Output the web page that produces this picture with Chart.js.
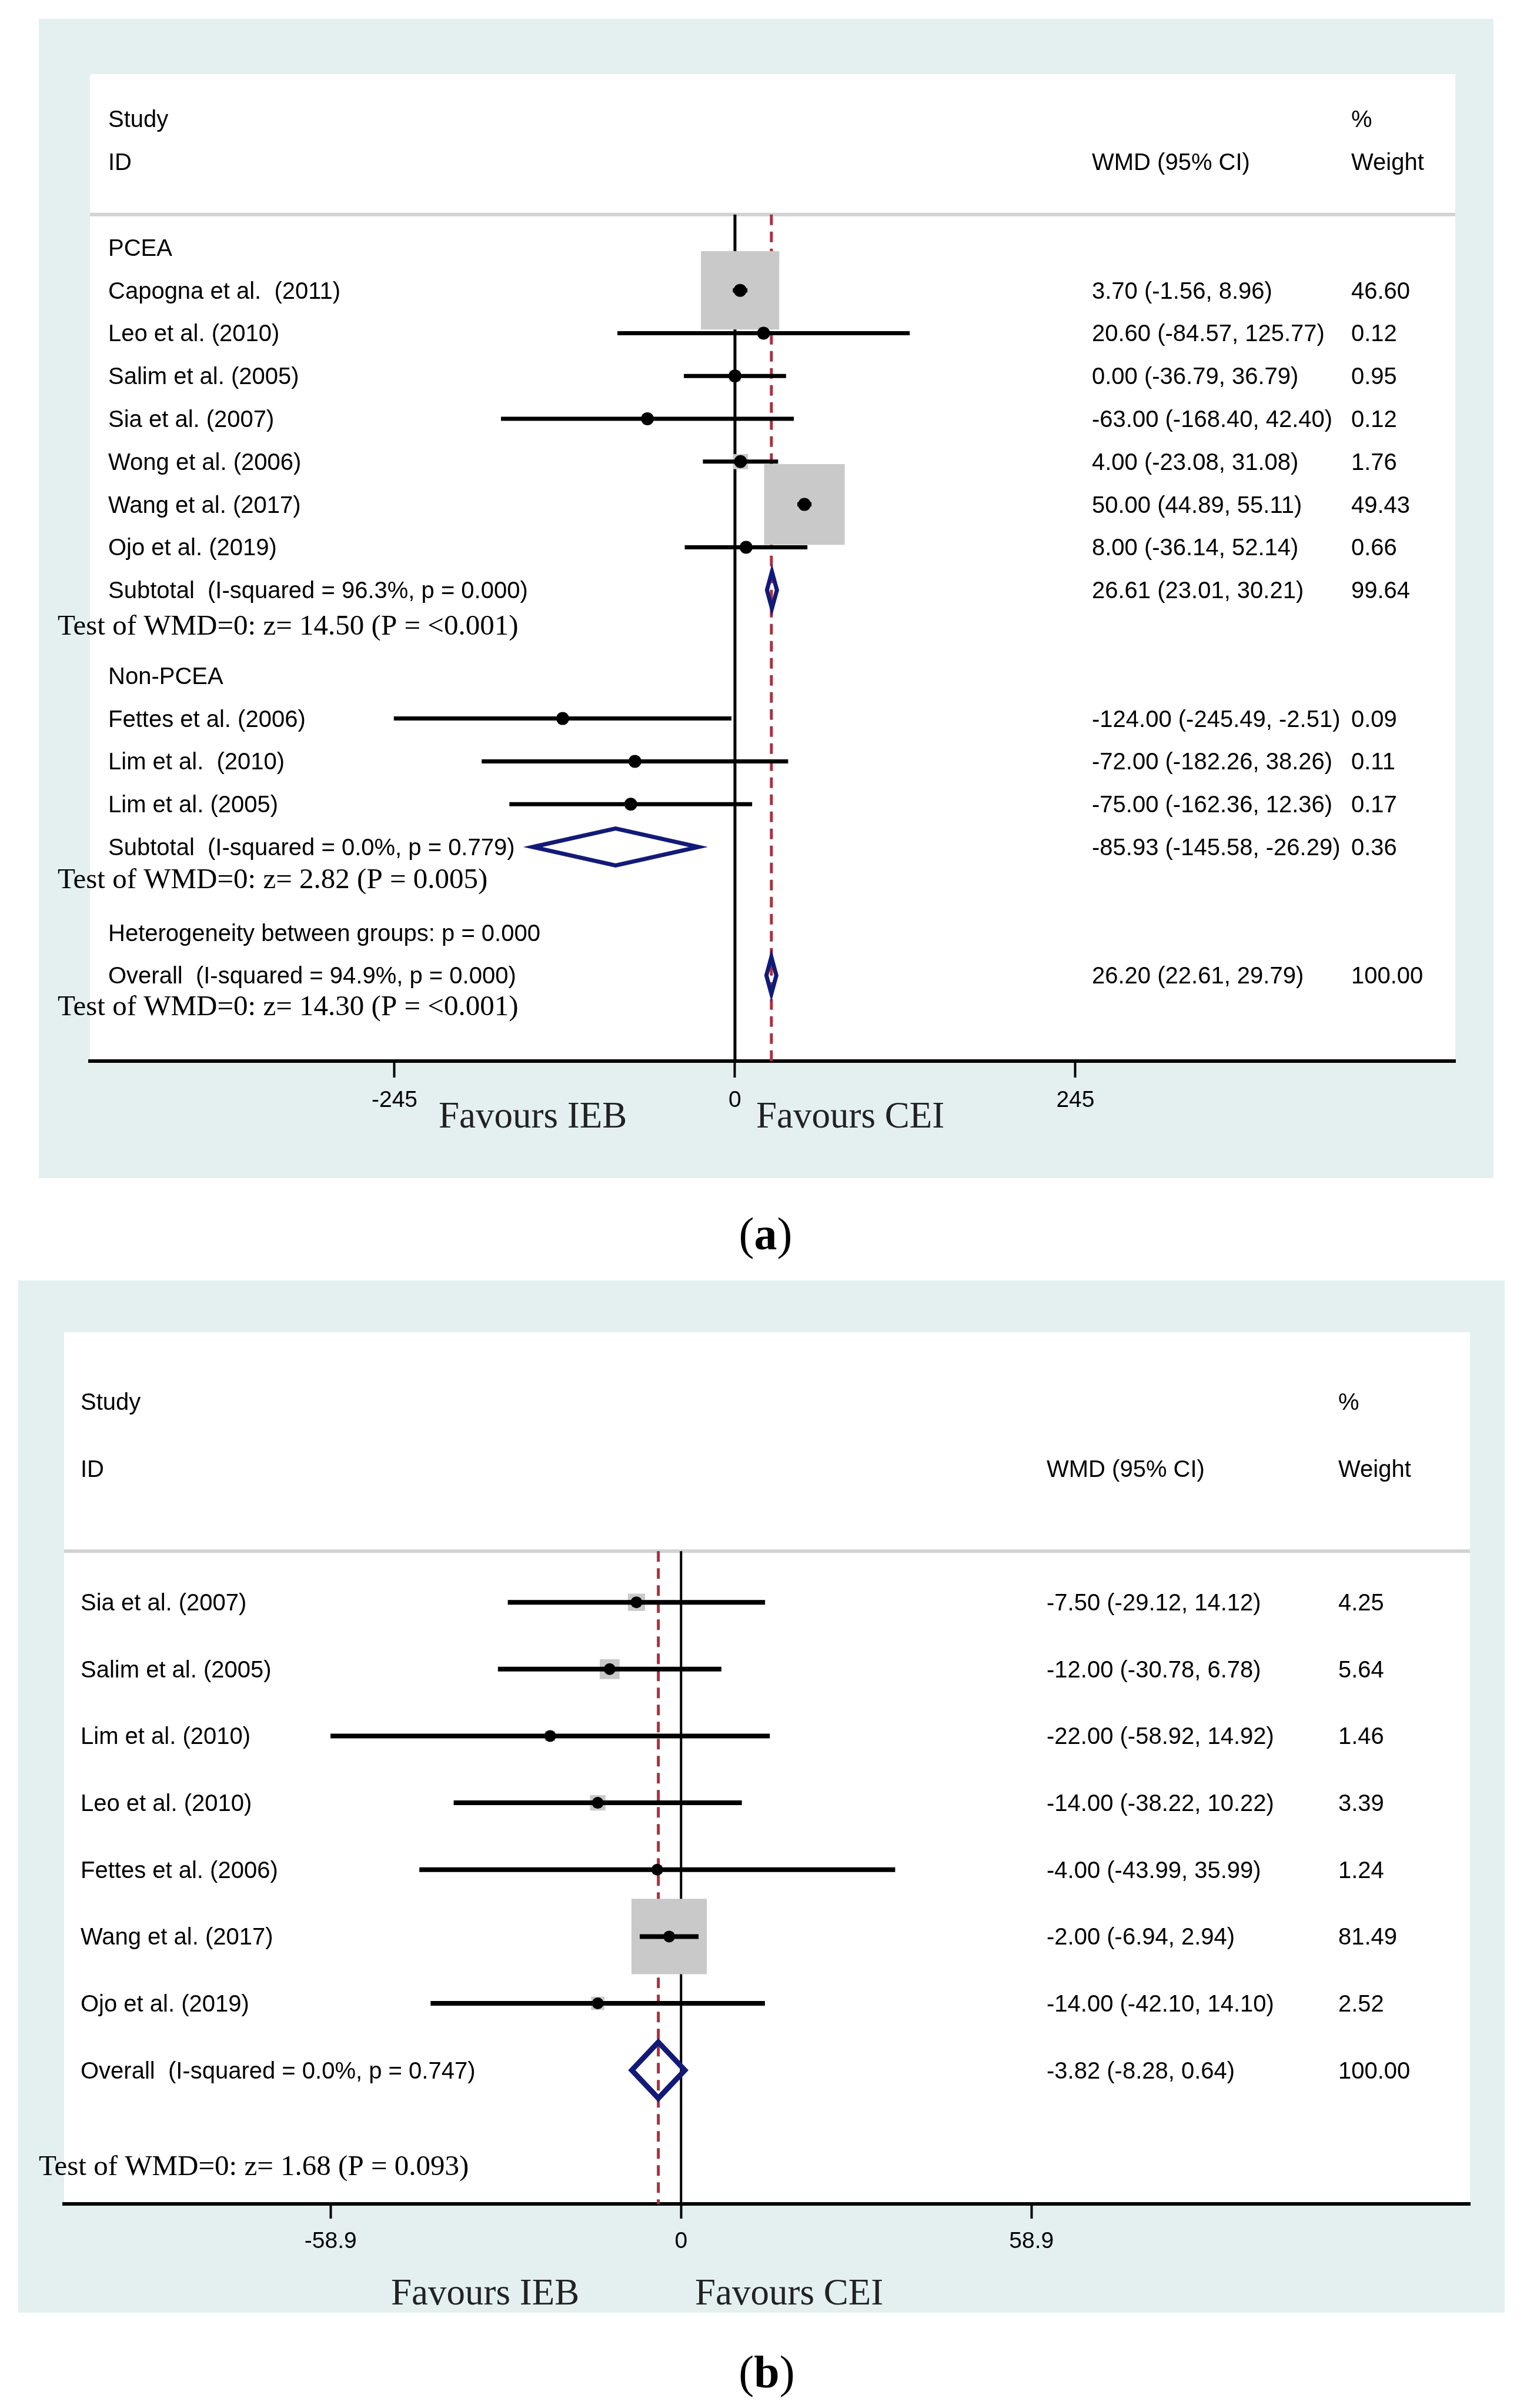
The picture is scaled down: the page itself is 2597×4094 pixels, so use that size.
<!DOCTYPE html>
<html>
<head>
<meta charset="utf-8">
<script src="https://cdn.jsdelivr.net/npm/chart.js@4.4.0/dist/chart.umd.min.js"></script>
<style>
  html, body { margin: 0; padding: 0; background: #fff; }
  canvas { position: absolute; left: 0; display: block; }
  #panelA { top: 0; }
  #panelB { top: 2160px; }
</style>
</head>
<body>
<canvas id="panelA" width="2597" height="2160"></canvas>
<canvas id="panelB" width="2597" height="1934"></canvas>
<script>
// ---- panel (a) data ----
var studiesA = ['Capogna et al.  (2011)', 'Leo et al. (2010)', 'Salim et al. (2005)', 'Sia et al. (2007)',
  'Wong et al. (2006)', 'Wang et al. (2017)', 'Ojo et al. (2019)',
  'Fettes et al. (2006)', 'Lim et al.  (2010)', 'Lim et al. (2005)'];
var rowsA = [1, 2, 3, 4, 5, 6, 7, 11, 12, 13];
var wmdA = [3.70, 20.60, 0.00, -63.00, 4.00, 50.00, 8.00, -124.00, -72.00, -75.00];
var lowA = [-1.56, -84.57, -36.79, -168.40, -23.08, 44.89, -36.14, -245.49, -182.26, -162.36];
var highA = [8.96, 125.77, 36.79, 42.40, 31.08, 55.11, 52.14, -2.51, 38.26, 12.36];
var weightA = [46.60, 0.12, 0.95, 0.12, 1.76, 49.43, 0.66, 0.09, 0.11, 0.17];

var groupsA = ['PCEA', 'Non-PCEA'];
var groupRowsA = [0, 10];
var poolLabelsA = ['Subtotal  (I-squared = 96.3%, p = 0.000)', 'Subtotal  (I-squared = 0.0%, p = 0.779)',
  'Overall  (I-squared = 94.9%, p = 0.000)'];
var poolRowsA = [8, 14, 17];
var poolWmdA = [26.61, -85.93, 26.20];
var poolLowA = [23.01, -145.58, 22.61];
var poolHighA = [30.21, -26.29, 29.79];
var poolWeightA = [99.64, 0.36, 100.00];
var testsA = ['Test of WMD=0: z= 14.50 (P = <0.001)', 'Test of WMD=0: z= 2.82 (P = 0.005)',
  'Test of WMD=0: z= 14.30 (P = <0.001)'];
var testRowsA = [8.82, 14.75, 17.71];
var notesA = ['Heterogeneity between groups: p = 0.000'];
var noteRowsA = [16];
var ticksA = [-245, 0, 245];
var tickLabelsA = ['-245', '0', '245'];

// ---- panel (b) data ----
var studiesB = ['Sia et al. (2007)', 'Salim et al. (2005)', 'Lim et al. (2010)', 'Leo et al. (2010)',
  'Fettes et al. (2006)', 'Wang et al. (2017)', 'Ojo et al. (2019)'];
var rowsB = [0, 1, 2, 3, 4, 5, 6];
var wmdB = [-7.50, -12.00, -22.00, -14.00, -4.00, -2.00, -14.00];
var lowB = [-29.12, -30.78, -58.92, -38.22, -43.99, -6.94, -42.10];
var highB = [14.12, 6.78, 14.92, 10.22, 35.99, 2.94, 14.10];
var weightB = [4.25, 5.64, 1.46, 3.39, 1.24, 81.49, 2.52];

var poolLabelsB = ['Overall  (I-squared = 0.0%, p = 0.747)'];
var poolRowsB = [7];
var poolWmdB = [-3.82];
var poolLowB = [-8.28];
var poolHighB = [0.64];
var poolWeightB = [100.00];
var testsB = ['Test of WMD=0: z= 1.68 (P = 0.093)'];
var testRowsB = [8.43];
var ticksB = [-58.9, 0, 58.9];
var tickLabelsB = ['-58.9', '0', '58.9'];

var SANS = '"Liberation Sans", Arial, sans-serif';
var SERIF = '"Liberation Serif", "Times New Roman", serif';
var BLUE_BG = '#e4f0f0';
var NAVY = '#121a78';
var MAROON = '#a8323f';

function fmt(e, l, h) {
  return e.toFixed(2) + ' (' + l.toFixed(2) + ', ' + h.toFixed(2) + ')';
}

function ciData(lo, hi, rows) {
  var d = [];
  for (var i = 0; i < lo.length; i++) {
    d.push({x: lo[i], y: rows[i]}, {x: hi[i], y: rows[i]}, {x: null, y: null});
  }
  return d;
}

function diamondData(est, lo, hi, rows, h) {
  var d = [];
  for (var i = 0; i < est.length; i++) {
    var r = rows[i];
    d.push({x: lo[i], y: r}, {x: est[i], y: r - h}, {x: hi[i], y: r}, {x: est[i], y: r + h},
      {x: lo[i], y: r}, {x: est[i], y: r - h}, {x: null, y: null});
  }
  return d;
}

function pointData(est, rows) {
  return est.map(function (v, i) { return {x: v, y: rows[i]}; });
}

function forest(id, d, L) {
  var ctx = document.getElementById(id).getContext('2d');

  var decor = {
    id: 'decor' + id,
    beforeDraw: function (chart) {
      var c = chart.ctx, a = chart.chartArea;
      c.save();
      c.fillStyle = '#fff';
      c.fillRect(0, 0, chart.width, chart.height);
      c.fillStyle = BLUE_BG;
      c.fillRect(L.outer[0], L.outer[1], L.outer[2] - L.outer[0], L.outer[3] - L.outer[1]);
      c.fillStyle = '#fff';
      c.fillRect(a.left, a.top, a.right - a.left, a.bottom - a.top);
      // header rule
      var yh = chart.scales.y.getPixelForValue(L.headRow);
      c.fillStyle = '#d2d2d2';
      c.fillRect(a.left, yh - 3, a.right - a.left, 6);
      c.restore();
    },
    afterDraw: function (chart) {
      var c = chart.ctx, y = chart.scales.y;
      c.save();
      c.fillStyle = '#000';
      c.textBaseline = 'middle';
      c.textAlign = 'left';
      c.font = '40px ' + SANS;
      function put(s, x, row) { c.fillText(s, x, y.getPixelForValue(row) + 3); }
      put('Study', L.labelX, -3);
      put('ID', L.labelX, -2);
      put('WMD (95% CI)', L.wmdX, -2);
      put('%', L.wX, -3);
      put('Weight', L.wX, -2);
      (d.groups || []).forEach(function (g, i) { put(g, L.labelX, d.groupRows[i]); });
      d.studies.forEach(function (s, i) {
        put(s, L.labelX, d.rows[i]);
        put(fmt(d.wmd[i], d.low[i], d.high[i]), L.wmdX, d.rows[i]);
        put(d.weight[i].toFixed(2), L.wX, d.rows[i]);
      });
      d.poolLabels.forEach(function (s, i) {
        put(s, L.labelX, d.poolRows[i]);
        put(fmt(d.poolWmd[i], d.poolLow[i], d.poolHigh[i]), L.wmdX, d.poolRows[i]);
        put(d.poolWeight[i].toFixed(2), L.wX, d.poolRows[i]);
      });
      (d.notes || []).forEach(function (s, i) { put(s, L.labelX, d.noteRows[i]); });
      c.font = '49px ' + SERIF;
      d.tests.forEach(function (s, i) { put(s, L.testX, d.testRows[i]); });
      // favours labels
      c.textBaseline = 'alphabetic';
      c.font = '63px ' + SERIF;
      c.fillStyle = '#222';
      c.fillText('Favours IEB', L.favL, L.favY);
      c.fillText('Favours CEI', L.favR, L.favY);
      // panel letter
      c.fillStyle = '#000';
      c.font = '78px ' + SERIF;
      var wo = c.measureText('(').width, wc = c.measureText(')').width;
      c.font = 'bold 78px ' + SERIF;
      var wl = c.measureText(L.letter).width;
      var x0 = L.letterX - (wo + wl + wc) / 2;
      c.font = '78px ' + SERIF;
      c.fillText('(', x0, L.letterY);
      c.fillText(')', x0 + wo + wl, L.letterY);
      c.font = 'bold 78px ' + SERIF;
      c.fillText(L.letter, x0 + wo, L.letterY);
      c.restore();
    }
  };

  var boxRadius = d.weight.map(function (w) { return L.boxK * Math.sqrt(w) / Math.SQRT2; });
  var overall = d.poolWmd[d.poolWmd.length - 1];

  return new Chart(ctx, {
    type: 'scatter',
    data: {
      datasets: [
        { // point estimates
          data: pointData(d.wmd, d.rows),
          pointRadius: L.dot, pointBackgroundColor: '#000', pointBorderWidth: 0,
          order: 1
        },
        { // confidence intervals
          type: 'line', data: ciData(d.low, d.high, d.rows),
          borderColor: '#000', borderWidth: L.ci, pointRadius: 0, spanGaps: false,
          borderCapStyle: 'butt', order: 2
        },
        { // pooled estimates
          type: 'line', data: diamondData(d.poolWmd, d.poolLow, d.poolHigh, d.poolRows, L.dh),
          borderColor: NAVY, borderWidth: L.dw, pointRadius: 0, spanGaps: false,
          borderJoinStyle: 'miter', fill: false, order: 2
        },
        { // weight boxes
          data: pointData(d.wmd, d.rows),
          pointStyle: 'rect', pointRadius: boxRadius, pointBackgroundColor: '#c9c9c9',
          pointBorderWidth: 0, order: 3
        },
        { // line of no effect
          type: 'line', data: [{x: 0, y: L.headRow}, {x: 0, y: L.yMax}],
          borderColor: '#000', borderWidth: L.zw, pointRadius: 0, order: 5
        },
        { // overall effect
          type: 'line', data: [{x: overall, y: L.headRow}, {x: overall, y: L.yMax}],
          borderColor: MAROON, borderWidth: 5, borderDash: [18, 11], pointRadius: 0, order: 4
        }
      ]
    },
    options: {
      responsive: false,
      animation: false,
      devicePixelRatio: 1,
      events: [],
      layout: { padding: L.pad },
      plugins: { legend: { display: false }, tooltip: { enabled: false } },
      scales: {
        x: {
          type: 'linear', min: L.xMin, max: L.xMax,
          afterFit: function (s) { s.height = 110; },
          afterBuildTicks: function (s) { s.ticks = d.ticks.map(function (v) { return {value: v}; }); },
          border: { display: true, color: '#000', width: 6 },
          grid: { display: true, drawOnChartArea: false, drawTicks: true, tickLength: L.tickLen,
                  tickWidth: 4, tickColor: '#000' },
          ticks: {
            color: '#000', font: { family: SANS, size: 39 }, padding: 16, maxRotation: 0,
            autoSkip: false,
            callback: function (v, i) { return d.tickLabels[i]; }
          }
        },
        y: { type: 'linear', reverse: true, min: L.yMin, max: L.yMax, display: false }
      }
    },
    plugins: [decor]
  });
}

forest('panelA', {
  studies: studiesA, rows: rowsA, wmd: wmdA, low: lowA, high: highA, weight: weightA,
  groups: groupsA, groupRows: groupRowsA,
  poolLabels: poolLabelsA, poolRows: poolRowsA, poolWmd: poolWmdA, poolLow: poolLowA,
  poolHigh: poolHighA, poolWeight: poolWeightA,
  tests: testsA, testRows: testRowsA, notes: notesA, noteRows: noteRowsA,
  ticks: ticksA, tickLabels: tickLabelsA
}, {
  outer: [66, 32, 2540, 2003],
  pad: { left: 153, right: 122, top: 126, bottom: 246 },
  xMin: -464.2, xMax: 518.4, yMin: -4.05, yMax: 19.0, headRow: -0.77,
  labelX: 184, wmdX: 1857, wX: 2298, testX: 98,
  favL: 746, favR: 1286, favY: 1917,
  letter: 'a', letterX: 1302, letterY: 2124,
  boxK: 19.5, dot: 11, ci: 7, dh: 0.43, dw: 7, zw: 5, tickLen: 28
});

forest('panelB', {
  studies: studiesB, rows: rowsB, wmd: wmdB, low: lowB, high: highB, weight: weightB,
  poolLabels: poolLabelsB, poolRows: poolRowsB, poolWmd: poolWmdB, poolLow: poolLowB,
  poolHigh: poolHighB, poolWeight: poolWeightB,
  tests: testsB, testRows: testRowsB,
  ticks: ticksB, tickLabels: tickLabelsB
}, {
  outer: [31, 17, 2559, 1772],
  pad: { left: 109, right: 97, top: 105, bottom: 237 },
  xMin: -103.7, xMax: 132.6, yMin: -4.04, yMax: 9.0, headRow: -0.765,
  labelX: 137, wmdX: 1780, wX: 2276, testX: 66,
  favL: 665, favR: 1182, favY: 1758,
  letter: 'b', letterX: 1304, letterY: 1899,
  boxK: 14.2, dot: 10, ci: 8, dh: 0.42, dw: 9, zw: 4, tickLen: 25
});
</script>
</body>
</html>
